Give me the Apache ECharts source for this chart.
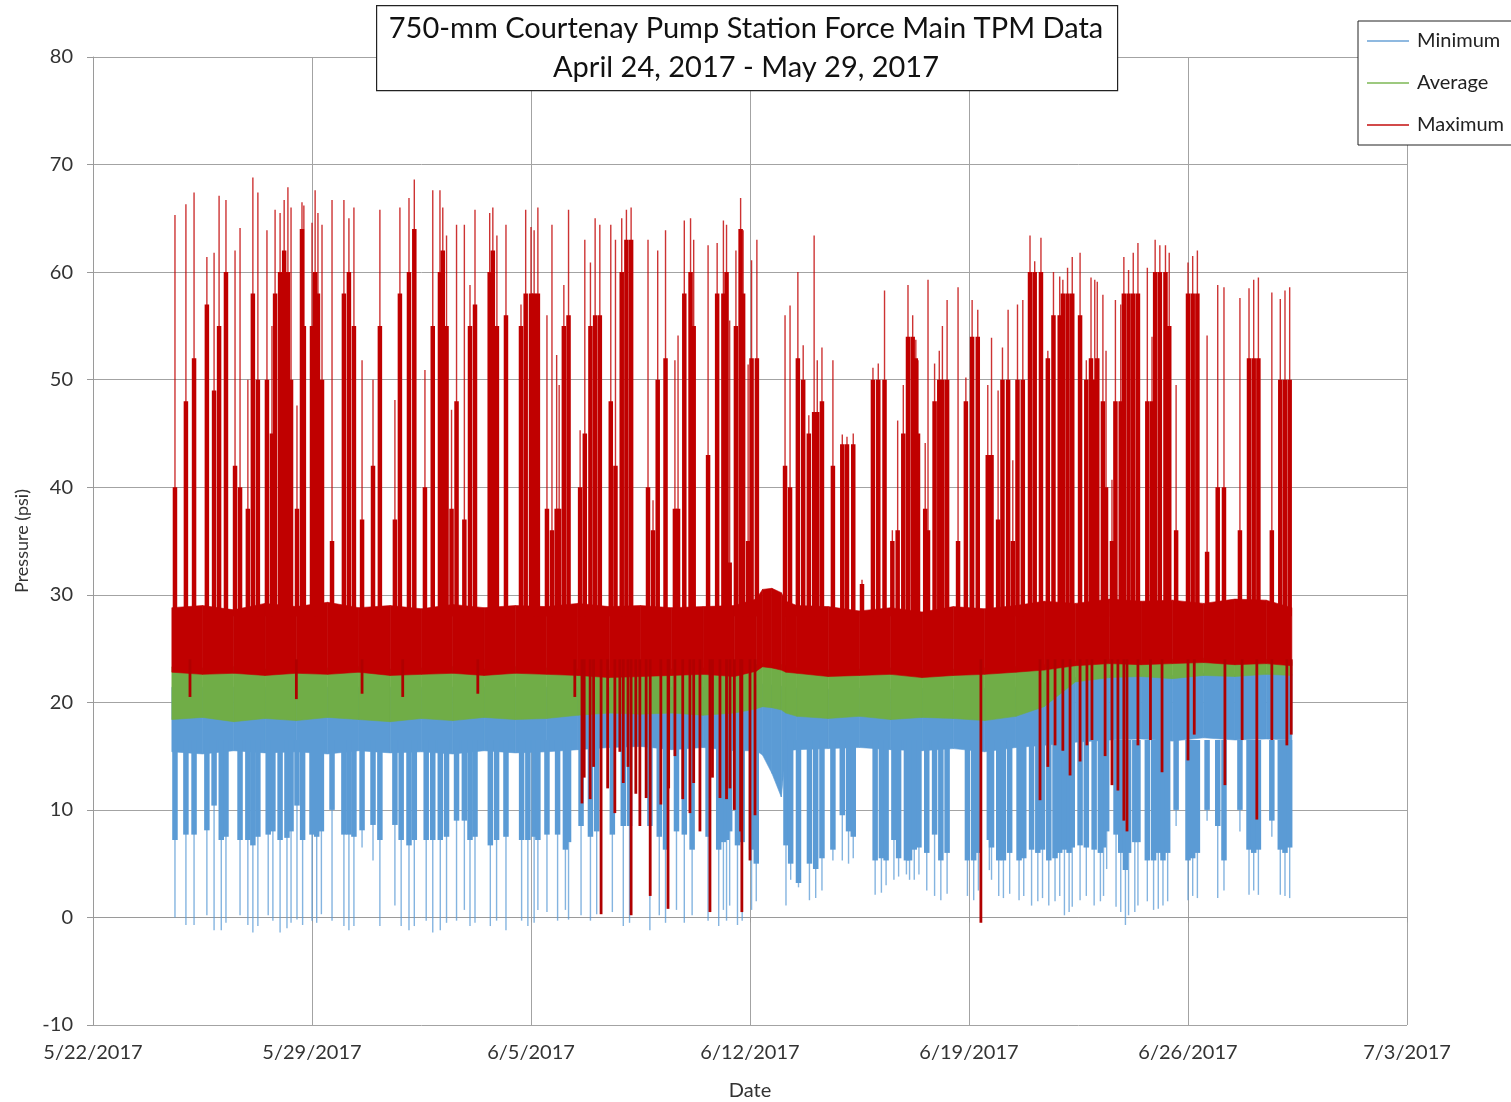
<!DOCTYPE html>
<html>
<head>
<meta charset="utf-8">
<title>750-mm Courtenay Pump Station Force Main TPM Data</title>
<script src="https://cdn.jsdelivr.net/npm/echarts@6/dist/echarts.min.js"></script>
<style>
  html, body { margin: 0; padding: 0; background: #fff; }
  #chart { width: 1511px; height: 1102px; }
</style>
</head>
<body>
<div id="chart"></div>
<script>
// Times are in days since 5/22/2017 00:00. Pressures in psi.
const DAY0 = Date.UTC(2017, 4, 22);

// Dense envelope of each logged series (band between low and high edges)
const bandDays = [2.52, 3.5, 4.5, 5.5, 6.5, 7.5, 8.5, 9.5, 10.5, 11.5, 12.5, 13.5, 14.5, 15.5, 16.5, 17.5, 18.5, 19.5, 20.5,
  21.2, 21.4, 21.7, 22.0, 22.15, 22.5, 23.5, 24.5, 25.5, 26.5, 27.5, 28.5, 29.5, 30.4, 31.4, 32.5, 33.5, 34.5, 35.5, 36.5, 37.5, 38.32];
const maxHi = [28.8, 29.0, 28.6, 29.2, 28.9, 29.3, 28.8, 29.0, 28.7, 29.1, 28.8, 29.0, 28.9, 29.2, 28.9, 29.0, 28.8, 28.9, 29.0,
  29.6, 30.5, 30.6, 30.2, 29.4, 29.0, 28.9, 28.5, 28.8, 28.4, 28.9, 28.7, 29.0, 29.4, 29.2, 29.6, 29.4, 29.5, 29.2, 29.6, 29.5, 28.8];
const maxLo = [22.8, 22.6, 22.7, 22.5, 22.7, 22.6, 22.8, 22.5, 22.6, 22.7, 22.5, 22.7, 22.6, 22.5, 22.3, 22.4, 22.5, 22.6, 22.4,
  22.9, 23.3, 23.2, 23.0, 22.8, 22.7, 22.4, 22.5, 22.6, 22.3, 22.5, 22.6, 22.8, 23.0, 23.4, 23.6, 23.5, 23.6, 23.7, 23.5, 23.6, 23.4];
const avgHi = [23.3, 23.2, 23.3, 23.1, 23.3, 23.2, 23.3, 23.1, 23.2, 23.3, 23.1, 23.3, 23.2, 23.1, 23.0, 23.1, 23.1, 23.2, 23.0,
  23.5, 23.6, 23.6, 23.5, 23.4, 23.2, 23.0, 23.1, 23.2, 23.0, 23.1, 23.2, 23.3, 23.5, 23.8, 24.0, 23.9, 24.0, 24.1, 23.9, 24.0, 23.8];
const avgLo = [18.4, 18.6, 18.2, 18.5, 18.3, 18.6, 18.4, 18.2, 18.5, 18.3, 18.6, 18.4, 18.5, 18.8, 19.0, 18.9, 19.0, 18.8, 19.0,
  19.4, 19.6, 19.5, 19.3, 19.0, 18.7, 18.5, 18.7, 18.4, 18.6, 18.5, 18.3, 18.7, 19.6, 21.9, 22.3, 22.4, 22.2, 22.5, 22.4, 22.6, 22.5];
const minHi = [21.4, 21.4, 21.4, 21.4, 21.4, 21.4, 21.4, 21.4, 21.4, 21.4, 21.4, 21.4, 21.4, 21.4, 21.4, 21.4, 21.4, 21.4, 21.4,
  21.6, 21.7, 21.6, 21.5, 21.4, 21.3, 21.2, 21.3, 21.2, 21.3, 21.2, 21.3, 21.4, 21.8, 22.3, 22.5, 22.6, 22.5, 22.7, 22.6, 22.7, 22.6];
const minLo = [15.4, 15.2, 15.5, 15.3, 15.4, 15.2, 15.5, 15.3, 15.4, 15.2, 15.5, 15.3, 15.4, 15.6, 15.8, 15.9, 15.6, 15.8, 15.5,
  15.5, 15.1, 13.4, 11.2, 15.5, 15.6, 15.7, 15.8, 15.6, 15.5, 15.7, 15.4, 15.8, 16.0, 16.3, 16.5, 16.6, 16.4, 16.7, 16.5, 16.6, 16.5];

// Maximum: pressure surges above the band [day, highest reading, top of dense burst]
const maxPeaks = [
  [2.62, 65.3, 40], [2.97, 66.3, 48], [3.23, 67.4, 52], [3.64, 61.4, 57], [3.87, 61.8, 49], [4.03, 67.1, 55], [4.25, 66.7, 60],
  [4.54, 62.0, 42], [4.70, 64.1, 40], [4.95, 50.0, 38], [5.11, 68.8, 58], [5.27, 67.4, 50], [5.56, 63.9, 50], [5.72, 55.0, 45],
  [5.82, 65.8, 58], [5.98, 65.5, 60], [6.11, 66.7, 62], [6.23, 67.9, 60], [6.33, 66.0, 50], [6.52, 47.6, 38], [6.68, 66.5, 64],
  [6.74, 66.2, 55], [7.00, 64.6, 55], [7.10, 67.6, 60], [7.19, 65.5, 58], [7.32, 64.4, 50], [7.64, 66.7, 35], [8.02, 66.7, 58],
  [8.18, 65.0, 60], [8.34, 66.0, 55], [8.60, 51.8, 37], [8.95, 50.0, 42], [9.17, 65.8, 55], [9.65, 48.1, 37], [9.81, 66.0, 58],
  [10.10, 66.9, 60], [10.27, 68.6, 64], [10.61, 50.9, 40], [10.86, 67.6, 55], [11.09, 67.6, 60], [11.18, 66.0, 62], [11.30, 63.4, 55],
  [11.46, 47.2, 38], [11.62, 64.4, 48], [11.87, 64.4, 37], [12.05, 58.8, 55], [12.21, 65.8, 57], [12.68, 65.5, 60], [12.78, 66.0, 62],
  [12.91, 63.4, 55], [13.20, 64.4, 56], [13.68, 57.0, 55], [13.83, 65.8, 58], [14.00, 64.2, 58], [14.10, 63.9, 58], [14.22, 66.0, 58],
  [14.51, 56.0, 38], [14.67, 64.4, 36], [14.82, 52.3, 38], [14.90, 49.5, 38], [15.05, 58.8, 55], [15.20, 65.8, 56], [15.57, 45.3, 40],
  [15.72, 63.0, 45], [15.90, 60.9, 55], [16.05, 65.0, 56], [16.20, 64.4, 56], [16.55, 64.4, 48], [16.70, 63.0, 42], [16.90, 65.0, 60],
  [17.05, 65.8, 63], [17.20, 66.0, 63], [17.74, 63.0, 40], [17.90, 38.8, 36], [18.05, 62.0, 50], [18.30, 63.9, 52], [18.60, 51.8, 38],
  [18.70, 54.1, 38], [18.90, 64.8, 58], [19.10, 65.0, 60], [19.20, 63.0, 55], [19.66, 62.5, 43], [19.95, 62.7, 58], [20.15, 64.8, 58],
  [20.25, 64.4, 60], [20.35, 55.5, 33], [20.55, 62.0, 55], [20.70, 66.9, 64], [20.78, 63.9, 58], [20.94, 51.4, 35], [21.05, 61.1, 52],
  [21.22, 63.0, 52], [22.12, 56.0, 42], [22.28, 56.9, 40], [22.53, 60.0, 52], [22.70, 53.2, 50], [22.88, 46.7, 45], [23.05, 63.4, 47],
  [23.15, 51.8, 47], [23.30, 53.0, 48], [23.65, 51.8, 42], [23.95, 44.9, 44], [24.10, 44.7, 44], [24.30, 45.0, 44], [24.58, 31.4, 31],
  [24.93, 51.1, 50], [25.10, 51.5, 50], [25.30, 58.3, 50], [25.55, 36.0, 35], [25.72, 46.2, 36], [25.90, 49.5, 45], [26.05, 58.8, 54],
  [26.20, 56.0, 54], [26.30, 53.7, 52], [26.37, 51.8, 45], [26.60, 44.1, 38], [26.69, 59.3, 36], [26.90, 51.5, 48], [27.05, 52.7, 50],
  [27.15, 55.0, 50], [27.30, 57.4, 50], [27.65, 58.6, 35], [27.90, 50.2, 48], [28.10, 57.4, 54], [28.28, 56.5, 54], [28.60, 49.5, 43],
  [28.72, 53.9, 43], [28.93, 49.0, 37], [29.07, 53.0, 50], [29.25, 56.5, 50], [29.40, 42.5, 35], [29.55, 57.0, 50], [29.72, 57.4, 50],
  [29.95, 63.4, 60], [30.10, 61.0, 60], [30.30, 63.2, 60], [30.52, 52.7, 52], [30.70, 60.0, 56], [30.90, 59.6, 56], [31.00, 59.3, 58],
  [31.15, 60.4, 58], [31.30, 61.4, 58], [31.55, 61.8, 56], [31.75, 51.8, 50], [31.90, 59.5, 52], [32.02, 59.3, 50], [32.10, 59.1, 52],
  [32.28, 57.9, 48], [32.38, 52.7, 40], [32.57, 40.7, 35], [32.68, 57.4, 48], [32.85, 57.0, 48], [32.95, 61.4, 58], [33.10, 60.2, 58],
  [33.25, 61.8, 58], [33.40, 62.7, 58], [33.70, 60.4, 48], [33.85, 54.0, 48], [33.95, 63.0, 60], [34.10, 62.5, 60], [34.28, 62.5, 60],
  [34.40, 61.8, 55], [34.62, 49.5, 36], [35.00, 60.9, 58], [35.15, 61.5, 58], [35.30, 62.0, 58], [35.61, 54.1, 34], [35.95, 58.8, 40],
  [36.15, 58.6, 40], [36.66, 57.6, 36], [36.95, 58.5, 52], [37.10, 59.3, 52], [37.25, 59.5, 52], [37.68, 58.1, 36], [37.95, 57.5, 50],
  [38.10, 58.3, 50], [38.25, 58.6, 50]
];

// Maximum: readings that fell below the band [day, lowest reading]
const maxDrops = [
  [3.10, 20.5], [6.50, 20.3], [8.60, 20.8], [9.90, 20.5], [12.30, 20.8], [15.40, 20.5],
  [15.63, 10.6], [15.70, 13.0], [15.89, 11.0], [16.00, 14.0], [16.24, 0.3], [16.45, 12.0], [16.68, 9.7], [16.84, 15.4],
  [16.95, 12.5], [17.10, 14.0], [17.20, 0.2], [17.35, 11.5], [17.48, 8.5], [17.68, 11.1], [17.81, 2.0], [18.15, 10.5],
  [18.38, 0.8], [18.40, 12.0], [18.60, 15.0], [18.85, 11.0], [19.08, 9.7], [19.20, 12.5], [19.40, 8.0], [19.72, 0.5],
  [19.80, 13.0], [20.04, 11.1], [20.25, 11.0], [20.36, 12.0], [20.50, 10.0], [20.70, 8.0], [20.74, 0.5], [21.00, 5.3],
  [21.16, 9.5], [28.38, -0.5], [30.27, 10.9], [30.52, 14.0], [30.75, 16.0], [31.00, 15.5], [31.23, 13.2], [31.55, 14.5],
  [31.77, 16.0], [31.93, 16.5], [32.35, 15.0], [32.57, 12.3], [32.76, 11.8], [32.95, 9.0], [33.05, 8.0], [33.40, 16.0],
  [33.80, 16.5], [34.17, 13.5], [35.00, 14.6], [35.20, 17.0], [36.18, 12.3], [36.73, 16.5], [37.20, 9.1], [37.68, 16.5],
  [38.16, 16.0], [38.30, 17.0]
];

// Minimum: pressure dips below the band [day, lowest reading, bottom of dense burst]
const minDips = [
  [2.62, 0.0, 7.2], [2.97, -0.7, 7.7], [3.23, -0.7, 7.7], [3.64, 0.2, 8.1], [3.87, -1.2, 10.4], [4.10, -1.2, 7.2], [4.25, -0.5, 7.5],
  [4.70, 0.2, 7.2], [4.95, -0.7, 7.2], [5.11, -1.4, 6.7], [5.27, -0.8, 7.5], [5.60, 0.2, 7.7], [5.75, -0.3, 8.0], [5.98, -1.4, 7.2],
  [6.20, -1.0, 7.4], [6.33, -0.5, 8.0], [6.52, -0.2, 10.4], [6.70, -0.7, 7.2], [7.00, -0.3, 7.7], [7.15, -0.5, 7.5], [7.30, 0.3, 8.0],
  [7.64, -0.3, 10.0], [8.02, -0.8, 7.7], [8.18, -1.2, 7.7], [8.34, -0.8, 7.5], [8.60, 6.5, 8.1], [8.95, 5.3, 8.6], [9.17, -0.8, 7.2],
  [9.65, 1.1, 8.6], [9.85, -0.8, 7.2], [10.10, -1.2, 6.7], [10.27, -0.8, 7.2], [10.65, -0.3, 7.2], [10.86, -1.4, 7.2], [11.10, -1.2, 7.2],
  [11.30, -0.5, 7.5], [11.62, -0.3, 9.0], [11.87, 0.7, 9.0], [12.05, -0.8, 7.2], [12.21, -0.5, 7.5], [12.70, -0.8, 6.7], [12.90, -0.3, 7.2],
  [13.20, -1.2, 7.5], [13.70, -0.3, 7.2], [13.90, -0.8, 7.2], [14.10, -0.5, 7.5], [14.22, 0.7, 7.2], [14.51, 0.5, 7.7], [14.85, -0.3, 7.7],
  [15.10, 0.7, 6.3], [15.20, -0.2, 7.0], [15.60, 0.2, 8.5], [15.90, -0.3, 7.5], [16.10, 0.3, 8.0], [16.60, 0.5, 7.7], [16.95, -0.8, 8.5],
  [17.15, -0.5, 8.5], [17.80, -1.2, 8.5], [18.10, 0.2, 7.5], [18.30, -0.5, 6.3], [18.65, 0.7, 8.0], [18.90, -0.5, 7.7], [19.15, 0.2, 6.3],
  [19.66, -0.3, 7.5], [20.00, -0.8, 6.3], [20.15, 0.7, 7.0], [20.25, -0.3, 7.2], [20.35, 1.1, 8.0], [20.60, -0.7, 6.7], [20.75, -0.3, 7.0],
  [21.05, 0.7, 6.3], [21.20, 1.5, 5.0], [22.15, 1.1, 6.7], [22.30, 3.5, 5.0], [22.55, 2.8, 3.2], [22.90, 1.6, 5.0], [23.10, 1.8, 4.5],
  [23.30, 2.5, 5.5], [23.65, 5.3, 6.3], [23.95, 5.3, 9.5], [24.15, 5.0, 8.0], [24.30, 5.5, 7.5], [25.00, 2.1, 5.3], [25.20, 2.3, 5.5],
  [25.35, 3.0, 5.3], [25.60, 3.5, 7.2], [25.75, 3.8, 5.5], [26.00, 4.0, 5.3], [26.10, 3.5, 5.3], [26.25, 3.5, 6.3], [26.40, 4.0, 6.5],
  [26.65, 2.5, 6.0], [26.90, 2.0, 7.7], [27.10, 1.6, 5.3], [27.30, 2.2, 6.0], [27.95, 2.0, 5.3], [28.15, 1.6, 5.3], [28.30, 2.5, 6.0],
  [28.65, 4.4, 7.2], [28.72, 3.5, 6.5], [28.95, 2.0, 5.3], [29.10, 1.8, 5.3], [29.30, 2.2, 6.0], [29.60, 1.6, 5.3], [29.75, 2.0, 5.5],
  [30.00, 1.1, 6.3], [30.20, 1.5, 6.0], [30.35, 1.8, 6.3], [30.55, 1.1, 5.3], [30.75, 1.5, 5.5], [30.90, 2.0, 6.0], [31.05, 0.2, 6.3],
  [31.20, 0.5, 6.0], [31.30, 1.0, 6.5], [31.55, 1.6, 6.7], [31.75, 2.0, 6.5], [32.00, 1.1, 6.3], [32.20, 1.5, 6.0], [32.30, 2.0, 6.5],
  [32.40, 4.5, 8.0], [32.70, 1.0, 7.7], [32.85, 0.5, 6.0], [33.00, -0.7, 4.4], [33.10, 0.2, 6.0], [33.30, 0.5, 7.0], [33.40, 1.1, 7.0],
  [33.70, 1.5, 5.3], [33.90, 0.7, 5.3], [34.05, 0.8, 6.0], [34.20, 1.1, 5.3], [34.35, 1.5, 6.0], [34.62, 8.5, 10.0], [35.00, 1.6, 5.3],
  [35.15, 2.0, 5.5], [35.30, 1.8, 6.0], [35.61, 9.0, 10.0], [35.95, 1.8, 8.5], [36.15, 2.5, 5.3], [36.66, 8.0, 10.0], [36.95, 2.1, 6.3],
  [37.10, 2.5, 6.0], [37.25, 2.1, 6.3], [37.68, 7.5, 9.0], [37.95, 2.1, 6.3], [38.10, 2.0, 6.0], [38.25, 1.8, 6.5]
];

// Axis ticks
const xTickDays = [0, 7, 14, 21, 28, 35, 42];
const yTicks = [-10, 0, 10, 20, 30, 40, 50, 60, 70, 80];

const COLORS = { Minimum: '#5b9bd5', Average: '#70ad47', Maximum: '#c00000' };
const FONT = 'Lato, "Open Sans", sans-serif';

function dayLabel(d) {
  const t = new Date(DAY0 + d * 864e5);
  return (t.getUTCMonth() + 1) + '/' + t.getUTCDate() + '/' + t.getUTCFullYear();
}

function bandSegments(lo, hi) {
  const out = [];
  for (let i = 0; i < bandDays.length - 1; i++) {
    out.push([bandDays[i], lo[i], hi[i], bandDays[i + 1], lo[i + 1], hi[i + 1]]);
  }
  return out;
}

function bandRender(color) {
  return function (params, api) {
    const pts = [
      api.coord([api.value(0), api.value(1)]),
      api.coord([api.value(3), api.value(4)]),
      api.coord([api.value(3), api.value(5)]),
      api.coord([api.value(0), api.value(2)])
    ];
    return { type: 'polygon', shape: { points: pts }, style: { fill: color, stroke: color, lineWidth: 0.6 } };
  };
}

// burst: a dense block from the band edge to the burst value,
// plus a thin trace out to the extreme reading
function burstRender(base, color, traceColor, bodyW) {
  return function (params, api) {
    const d = api.value(0);
    const b = api.coord([d, base]);
    const ext = api.coord([d, api.value(1)]);
    const body = api.coord([d, api.value(2)]);
    const x = b[0];
    return {
      type: 'group',
      children: [
        { type: 'line', shape: { x1: x, y1: b[1], x2: ext[0], y2: ext[1] }, style: { stroke: traceColor, lineWidth: 1.4 } },
        { type: 'rect', shape: { x: x - bodyW / 2, y: Math.min(b[1], body[1]), width: bodyW, height: Math.abs(body[1] - b[1]) },
          style: { fill: color } }
      ]
    };
  };
}

function dropRender(base, color) {
  return function (params, api) {
    const d = api.value(0);
    const b = api.coord([d, base]);
    const e = api.coord([d, api.value(1)]);
    return { type: 'line', shape: { x1: b[0], y1: b[1], x2: e[0], y2: e[1] }, style: { stroke: color, lineWidth: 2.8 } };
  };
}

const chart = echarts.init(document.getElementById('chart'), null, { renderer: 'canvas' });

const option = {
  animation: false,
  backgroundColor: '#ffffff',
  textStyle: { fontFamily: FONT },
  grid: { left: 93, top: 57, width: 1314, height: 968, containLabel: false, outerBoundsMode: 'none' },
  xAxis: {
    type: 'value', min: 0, max: 42, interval: 7,
    name: 'Date', nameLocation: 'middle', nameGap: 56,
    nameTextStyle: { fontSize: 20, color: '#333', fontFamily: FONT },
    axisLine: { show: true, lineStyle: { color: '#9a9a9a', width: 1 } },
    axisTick: { show: true, length: 5, inside: false, lineStyle: { color: '#9a9a9a' } },
    axisLabel: { margin: 18, fontSize: 20, color: '#333', fontFamily: FONT,
      formatter: v => (xTickDays.indexOf(v) >= 0 ? dayLabel(v) : '') },
    splitLine: { show: true, lineStyle: { color: '#a3a3a3', width: 1 } }
  },
  yAxis: {
    type: 'value', min: yTicks[0], max: yTicks[yTicks.length - 1], interval: 10,
    name: 'Pressure (psi)', nameLocation: 'middle', nameGap: 62, nameRotate: 90,
    nameTextStyle: { fontSize: 18, color: '#333', fontFamily: FONT },
    axisLine: { show: true, lineStyle: { color: '#9a9a9a', width: 1 } },
    axisTick: { show: true, length: 6, inside: false, lineStyle: { color: '#9a9a9a' } },
    axisLabel: { margin: 20, fontSize: 20, color: '#333', fontFamily: FONT },
    splitLine: { show: true, lineStyle: { color: '#a3a3a3', width: 1 } }
  },
  legend: {
    left: 1358, top: 21, orient: 'vertical',
    padding: [10, 14, 10, 9], itemGap: 22, itemWidth: 42, itemHeight: 2,
    backgroundColor: '#fff', borderColor: '#222', borderWidth: 1,
    textStyle: { fontSize: 20, color: '#222', fontFamily: FONT, padding: [0, 0, 0, 3] },
    data: [
      { name: 'Minimum', icon: 'rect', itemStyle: { color: '#8fb9e0' } },
      { name: 'Average', icon: 'rect', itemStyle: { color: '#9dc97f' } },
      { name: 'Maximum', icon: 'rect', itemStyle: { color: '#d24a4a' } }
    ],
    selectedMode: false
  },
  graphic: [
    { type: 'rect', left: 376, top: 5, shape: { width: 741, height: 85 },
      style: { fill: '#fff', stroke: '#222', lineWidth: 1.2 }, z: 10 },
    { type: 'text', x: 746, y: 29, z: 11,
      style: { text: '750-mm Courtenay Pump Station Force Main TPM Data', fill: '#111', font: '29px ' + FONT,
        textAlign: 'center', textVerticalAlign: 'middle' } },
    { type: 'text', x: 746, y: 68, z: 11,
      style: { text: 'April 24, 2017 - May 29, 2017', fill: '#111', font: '29px ' + FONT,
        textAlign: 'center', textVerticalAlign: 'middle' } }
  ],
  series: [
    { name: 'Minimum', type: 'custom', clip: true, itemStyle: { color: COLORS.Minimum },
      renderItem: bandRender(COLORS.Minimum), encode: { x: [0, 3], y: [1, 2] }, data: bandSegments(minLo, minHi) },
    { name: 'Minimum', type: 'custom', clip: true, itemStyle: { color: COLORS.Minimum },
      renderItem: burstRender(16.5, COLORS.Minimum, 'rgba(91,155,213,0.75)', 5.5), encode: { x: 0, y: [1, 2] }, data: minDips },
    { name: 'Average', type: 'custom', clip: true, itemStyle: { color: COLORS.Average },
      renderItem: bandRender(COLORS.Average), encode: { x: [0, 3], y: [1, 2] }, data: bandSegments(avgLo, avgHi) },
    { name: 'Maximum', type: 'custom', clip: true, itemStyle: { color: COLORS.Maximum },
      renderItem: bandRender(COLORS.Maximum), encode: { x: [0, 3], y: [1, 2] }, data: bandSegments(maxLo, maxHi) },
    { name: 'Maximum', type: 'custom', clip: true, itemStyle: { color: COLORS.Maximum },
      renderItem: burstRender(28, COLORS.Maximum, 'rgba(192,0,0,0.8)', 4.5), encode: { x: 0, y: [1, 2] }, data: maxPeaks },
    { name: 'Maximum', type: 'custom', clip: true, itemStyle: { color: COLORS.Maximum },
      renderItem: dropRender(24, '#b00000'), encode: { x: 0, y: 1 }, data: maxDrops }
  ]
};

chart.setOption(option);
</script>
</body>
</html>
